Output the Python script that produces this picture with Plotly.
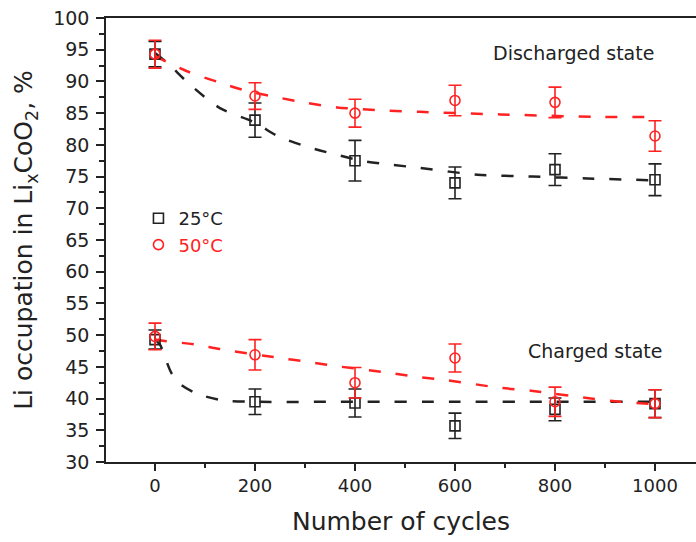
import plotly.graph_objects as go

cycles = [0, 200, 400, 600, 800, 1000]

dis_25 = [94.3, 83.9, 77.5, 74.0, 76.1, 74.5]
dis_25_err = [2.0, 2.7, 3.2, 2.5, 2.5, 2.5]
dis_50 = [94.3, 87.7, 85.0, 87.0, 86.7, 81.4]
dis_50_err = [2.2, 2.1, 2.2, 2.4, 2.4, 2.4]
chg_25 = [49.3, 39.5, 39.3, 35.7, 38.3, 39.2]
chg_25_err = [1.5, 2.0, 2.2, 2.0, 1.8, 2.2]
chg_50 = [49.8, 46.9, 42.5, 46.4, 39.5, 39.2]
chg_50_err = [2.1, 2.4, 2.4, 2.2, 2.3, 2.2]

# fitted guide curves
fit_dis25_x = [0, 25, 70, 130, 200, 245, 300, 360, 420, 470, 525, 645, 755, 865, 1000]
fit_dis25_y = [94.5, 92.9, 89.5, 85.8, 83.5, 81.4, 79.8, 78.5, 77.4, 76.9, 76.4, 75.3, 75.0, 74.7, 74.4]
fit_dis50_x = [0, 64, 130, 184, 244, 304, 364, 464, 530, 690, 890, 1000]
fit_dis50_y = [94.0, 91.6, 89.8, 88.5, 87.5, 86.6, 85.9, 85.4, 85.2, 84.8, 84.4, 84.4]
fit_chg25_x = [0, 10, 20, 33, 50, 83, 136, 200, 400, 600, 800, 1000]
fit_chg25_y = [49.3, 48.5, 46.5, 44.0, 42.3, 40.8, 39.7, 39.5, 39.5, 39.5, 39.5, 39.5]
fit_chg50_x = [0, 16, 84, 130, 250, 304, 364, 456, 516, 584, 690, 756, 864, 930, 1000]
fit_chg50_y = [49.3, 49.1, 48.5, 47.8, 46.4, 45.8, 45.1, 44.2, 43.5, 42.9, 41.7, 41.2, 40.1, 39.5, 39.1]

BLACK = "#222222"
RED = "#ff2222"
FONT = "DejaVu Sans, Liberation Sans, sans-serif"

fig = go.Figure()

dash = "12px,15px"
for fx, fy, col in [(fit_dis25_x, fit_dis25_y, BLACK), (fit_chg25_x, fit_chg25_y, BLACK),
                    (fit_dis50_x, fit_dis50_y, RED), (fit_chg50_x, fit_chg50_y, RED)]:
    fig.add_trace(go.Scatter(x=fx, y=fy, mode="lines", showlegend=False, hoverinfo="skip",
                             line=dict(color=col, width=2.5, dash=dash, shape="spline", smoothing=0.8)))

def pts(y, e, col, sym, name, show):
    return go.Scatter(x=cycles, y=y, mode="markers", name=name, showlegend=show,
                      marker=dict(symbol=sym, size=10, color=col,
                                  line=dict(color=col, width=1.6)),
                      error_y=dict(type="data", array=e, visible=True, color=col,
                                   thickness=1.6, width=6.5))

fig.add_trace(pts(dis_25, dis_25_err, BLACK, "square-open", "25°C", True))
fig.add_trace(pts(chg_25, chg_25_err, BLACK, "square-open", "25°C", False))
fig.add_trace(pts(dis_50, dis_50_err, RED, "circle-open", "<span style='color:#ff2222'>50°C</span>", True))
fig.add_trace(pts(chg_50, chg_50_err, RED, "circle-open", "50°C", False))

fig.add_annotation(x=0.793, xref="x domain", y=94.5, yref="y", text="Discharged state", showarrow=False,
                   xanchor="center", font=dict(size=19, color=BLACK, family=FONT))
fig.add_annotation(x=0.829, xref="x domain", y=47.5, yref="y", text="Charged state", showarrow=False,
                   xanchor="center", font=dict(size=19, color=BLACK, family=FONT))

fig.update_layout(
    width=696, height=542,
    margin=dict(l=106, r=0, t=18, b=80),
    paper_bgcolor="white", plot_bgcolor="white",
    font=dict(family=FONT, color=BLACK, size=18),
    legend=dict(x=0.055, y=0.59, xanchor="left", yanchor="top", bgcolor="rgba(0,0,0,0)",
                font=dict(size=18, color=BLACK), itemwidth=30, tracegroupgap=0),
    xaxis=dict(range=[-98, 1082], showgrid=False, zeroline=False, showline=True, linecolor=BLACK,
               linewidth=1.5, mirror=True, ticks="outside", ticklen=7, tickwidth=1.5, tickcolor=BLACK,
               tickvals=[0, 200, 400, 600, 800, 1000], tickfont=dict(size=18, color=BLACK),
               minor=dict(tickvals=[100, 300, 500, 700, 900], ticks="outside", ticklen=4,
                          tickwidth=1.5, tickcolor=BLACK),
               title=dict(text="Number of cycles", font=dict(size=25, color=BLACK), standoff=17)),
    yaxis=dict(range=[30, 100], showgrid=False, zeroline=False, showline=True, linecolor=BLACK,
               linewidth=1.5, ticks="outside", ticklen=8, tickwidth=1.5, tickcolor=BLACK,
               dtick=5, tick0=30, tickfont=dict(size=19, color=BLACK), ticklabelstandoff=3,
               minor=dict(dtick=2.5, tick0=30, ticks="outside", ticklen=5, tickwidth=1.5, tickcolor=BLACK),
               title=dict(text="Li occupation in Li<sub>x</sub>CoO<sub>2</sub>, %",
                          font=dict(size=25, color=BLACK), standoff=13)),
)

fig.write_html("out.html")
